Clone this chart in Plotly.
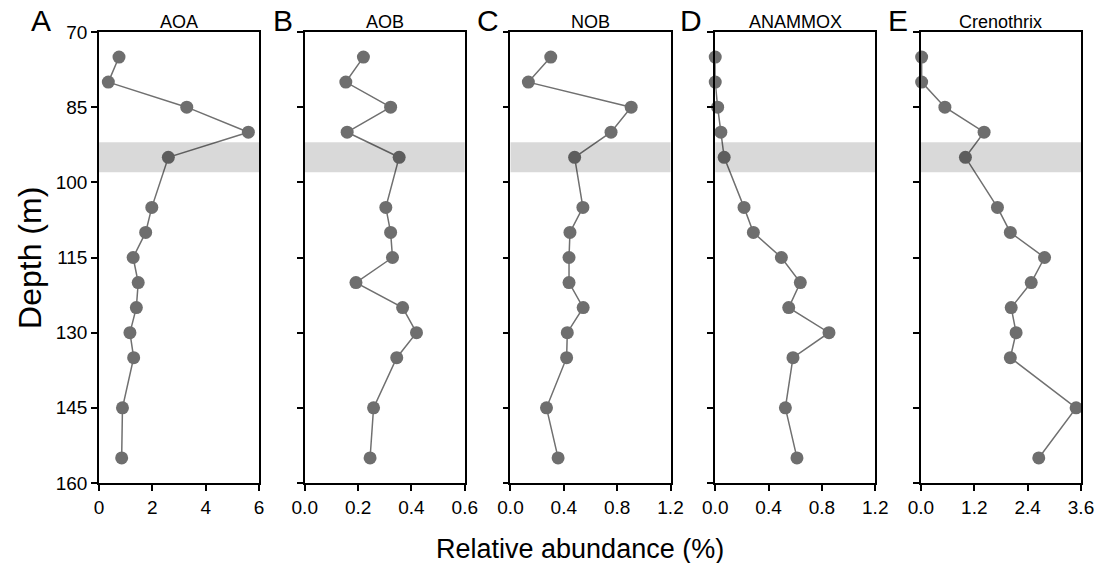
import plotly.graph_objects as go

depth = [75, 80, 85, 90, 95, 105, 110, 115, 120, 125, 130, 135, 145, 155]
aoa = [0.75, 0.35, 3.29, 5.6, 2.6, 1.98, 1.75, 1.28, 1.47, 1.40, 1.16, 1.30, 0.88, 0.85]
aob = [0.22, 0.154, 0.322, 0.159, 0.354, 0.304, 0.322, 0.329, 0.192, 0.367, 0.419, 0.345, 0.258, 0.245]
nob = [0.302, 0.134, 0.905, 0.754, 0.481, 0.543, 0.446, 0.439, 0.439, 0.545, 0.426, 0.421, 0.27, 0.357]
anammox = [0.0, 0.0, 0.018, 0.042, 0.067, 0.216, 0.286, 0.496, 0.638, 0.551, 0.853, 0.583, 0.526, 0.613]
crenothrix = [0.015, 0.015, 0.538, 1.42, 1.0, 1.72, 2.01, 2.78, 2.48, 2.03, 2.14, 2.01, 3.49, 2.65]

series = [aoa, aob, nob, anammox, crenothrix]
titles = ["AOA", "AOB", "NOB", "ANAMMOX", "Crenothrix"]
letters = ["A", "B", "C", "D", "E"]
x_ticks = [[0, 2, 4, 6], [0.0, 0.2, 0.4, 0.6], [0.0, 0.4, 0.8, 1.2], [0.0, 0.4, 0.8, 1.2], [0.0, 1.2, 2.4, 3.6]]
x_ticktext = [["0", "2", "4", "6"], ["0.0", "0.2", "0.4", "0.6"], ["0.0", "0.4", "0.8", "1.2"],
              ["0.0", "0.4", "0.8", "1.2"], ["0.0", "1.2", "2.4", "3.6"]]
y_ticks = [70, 85, 100, 115, 130, 145, 160]
band = [92, 98]

W, H = 1106, 563
ml, mr, mt, mb = 99, 19, 32, 80
pw = W - ml - mr
panel_left_px = [99, 306, 513, 719, 926]
panel_w_px = 161

FONT = "Liberation Sans, Arial, Helvetica, sans-serif"
fig = go.Figure()
annotations = []
shapes = []

for i in range(5):
    x0 = (panel_left_px[i] - ml) / pw
    x1 = min(1.0, (panel_left_px[i] + panel_w_px - ml) / pw)
    sfx = "" if i == 0 else str(i + 1)
    fig.add_trace(go.Scatter(
        x=series[i], y=depth, mode="lines+markers",
        xaxis="x" + sfx, yaxis="y" + sfx,
        line=dict(color="#707070", width=1.5),
        marker=dict(color="#6e6e6e", size=13),
        cliponaxis=False, showlegend=False,
    ))
    common = dict(showline=True, linecolor="black", linewidth=1.5, mirror=True,
                  ticks="outside", ticklen=6, tickwidth=1.5, tickcolor="black",
                  showgrid=False, zeroline=False,
                  tickfont=dict(family=FONT, size=19, color="black"))
    fig.update_layout(**{
        "xaxis" + sfx: dict(domain=[x0, x1], range=[x_ticks[i][0], x_ticks[i][-1]],
                            tickmode="array", tickvals=x_ticks[i], ticktext=x_ticktext[i],
                            anchor="y" + sfx, **common),
        "yaxis" + sfx: dict(domain=[0, 1], range=[160, 70], tickmode="array",
                            tickvals=y_ticks, showticklabels=(i == 0),
                            anchor="x" + sfx, **common),
    })
    xref = "x" + sfx
    shapes.append(dict(type="rect", xref=xref + " domain", yref="y" + sfx,
                       x0=0, x1=1, y0=band[0], y1=band[1],
                       fillcolor="rgba(0,0,0,0.15)", line=dict(width=0), layer="above"))
    annotations.append(dict(text=titles[i], xref="paper", yref="paper",
                            x=(x0 + x1) / 2, y=1, xanchor="center", yanchor="bottom",
                            yshift=-2, showarrow=False,
                            font=dict(family=FONT, size=18, color="black")))

letter_right_px = [53, 296, 503, 708, 915]
for i in range(5):
    annotations.append(dict(text=letters[i], xref="paper", yref="paper",
                            x=(letter_right_px[i] - ml) / pw, y=1,
                            xanchor="right", yanchor="bottom", yshift=-7,
                            showarrow=False,
                            font=dict(family=FONT, size=30, color="black")))

annotations.append(dict(text="Depth (m)", xref="paper", yref="paper",
                        x=(29 - ml) / pw, y=0.5, xanchor="center", yanchor="middle",
                        textangle=-90, showarrow=False,
                        font=dict(family=FONT, size=32, color="black")))
annotations.append(dict(text="Relative abundance (%)", xref="paper", yref="paper",
                        x=(583 - ml) / pw, y=(H - mb - 549) / (H - mt - mb),
                        xanchor="center", yanchor="middle", showarrow=False,
                        font=dict(family=FONT, size=27, color="black")))

fig.update_layout(width=W, height=H, margin=dict(l=ml, r=mr, t=mt, b=mb, pad=0),
                  paper_bgcolor="white", plot_bgcolor="white",
                  annotations=annotations, shapes=shapes,
                  font=dict(family=FONT, color="black"))
fig.write_html("out.html")
